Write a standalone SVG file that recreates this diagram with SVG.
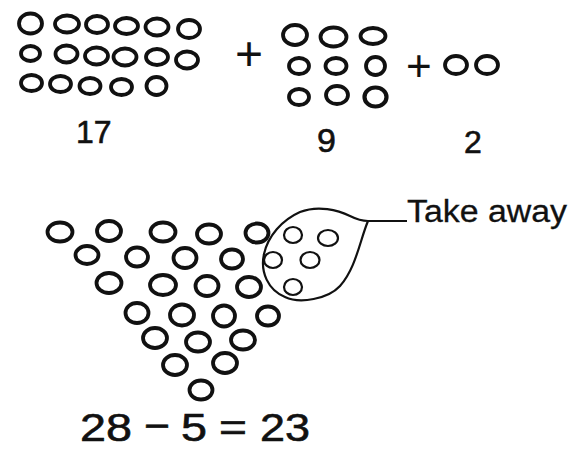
<svg xmlns="http://www.w3.org/2000/svg" width="573" height="450" viewBox="0 0 573 450">
<style>
.c{fill:none;stroke:#111;stroke-width:3.8}
.s{fill:none;stroke:#111;stroke-width:4.2}
.l{fill:none;stroke:#111;stroke-width:2.2}
.t{font-family:"Liberation Sans",Arial,sans-serif;fill:#111;stroke:#111;stroke-width:0.6}
</style>
<rect width="573" height="450" fill="#fff"/>
<g id="group17">
<ellipse class="c" cx="30.5" cy="23.5" rx="11.5" ry="10"/>
<ellipse class="c" cx="67" cy="24" rx="12" ry="8.5"/>
<ellipse class="c" cx="97" cy="24.5" rx="11" ry="8.5"/>
<ellipse class="c" cx="126.5" cy="26" rx="11.5" ry="8"/>
<ellipse class="c" cx="157" cy="27" rx="11.5" ry="8.5"/>
<ellipse class="c" cx="189" cy="29" rx="11" ry="9"/>
<ellipse class="c" cx="30.5" cy="53.5" rx="9.5" ry="7.5"/>
<ellipse class="c" cx="66.5" cy="54" rx="11" ry="8.5"/>
<ellipse class="c" cx="96.5" cy="56" rx="11.5" ry="8.5"/>
<ellipse class="c" cx="125" cy="57" rx="11.5" ry="8.5"/>
<ellipse class="c" cx="157" cy="57" rx="11" ry="8"/>
<ellipse class="c" cx="187" cy="60" rx="11" ry="8.5"/>
<ellipse class="c" cx="31.5" cy="83" rx="10.5" ry="8"/>
<ellipse class="c" cx="60.5" cy="84" rx="10.5" ry="8"/>
<ellipse class="c" cx="90" cy="86" rx="10.5" ry="8"/>
<ellipse class="c" cx="121.5" cy="87" rx="10.5" ry="8"/>
<ellipse class="c" cx="156.5" cy="86" rx="10" ry="9"/>
<text class="t" x="76" y="143" font-size="32">17</text>
</g>
<g id="plus1"><text class="t" x="235" y="70" font-size="48" style="stroke-width:0">+</text></g>
<g id="group9">
<ellipse class="c" cx="295" cy="35" rx="12" ry="10"/>
<ellipse class="c" cx="333.5" cy="37" rx="13" ry="9.5"/>
<ellipse class="c" cx="373" cy="36" rx="12.5" ry="8"/>
<ellipse class="c" cx="299" cy="66" rx="10" ry="8"/>
<ellipse class="c" cx="336" cy="66" rx="10.5" ry="8"/>
<ellipse class="c" cx="375.5" cy="66" rx="9.5" ry="9"/>
<ellipse class="c" cx="299" cy="97" rx="10" ry="8"/>
<ellipse class="c" cx="337" cy="95" rx="11" ry="9"/>
<ellipse class="s" cx="375.5" cy="97" rx="11" ry="9.5"/>
<text class="t" x="317" y="152" font-size="34">9</text>
</g>
<g id="plus2"><text class="t" x="406" y="81" font-size="44" style="stroke-width:0">+</text></g>
<g id="group2">
<ellipse class="c" cx="456" cy="65" rx="11" ry="9"/>
<ellipse class="c" cx="487" cy="65" rx="11" ry="9"/>
<text class="t" x="464" y="153" font-size="32">2</text>
</g>
<g id="triangle">
<ellipse class="c" cx="60" cy="232" rx="12.5" ry="9.5"/>
<ellipse class="c" cx="109" cy="231" rx="12" ry="10"/>
<ellipse class="c" cx="163" cy="232" rx="12.5" ry="9.5"/>
<ellipse class="c" cx="209" cy="234" rx="12" ry="9.5"/>
<ellipse class="c" cx="257" cy="233" rx="11.5" ry="9.5"/>
<ellipse class="c" cx="87" cy="255" rx="11.5" ry="9"/>
<ellipse class="c" cx="137" cy="257" rx="11" ry="9.5"/>
<ellipse class="c" cx="185" cy="258" rx="11.5" ry="10"/>
<ellipse class="c" cx="232" cy="259" rx="11" ry="9.5"/>
<ellipse class="c" cx="109" cy="283" rx="12.5" ry="10"/>
<ellipse class="c" cx="163" cy="285" rx="13" ry="10"/>
<ellipse class="c" cx="207" cy="286" rx="11.5" ry="10"/>
<ellipse class="c" cx="249" cy="287" rx="12" ry="10"/>
<ellipse class="c" cx="137" cy="313" rx="11.5" ry="10"/>
<ellipse class="c" cx="182" cy="315" rx="12" ry="10.5"/>
<ellipse class="c" cx="224" cy="316" rx="11" ry="10.5"/>
<ellipse class="c" cx="268" cy="316" rx="11" ry="9.5"/>
<ellipse class="c" cx="155" cy="338" rx="12" ry="10"/>
<ellipse class="c" cx="198" cy="342" rx="12" ry="9.5"/>
<ellipse class="c" cx="243" cy="340" rx="12" ry="9.5"/>
<ellipse class="c" cx="175" cy="365" rx="12" ry="10"/>
<ellipse class="c" cx="225" cy="363" rx="12" ry="10"/>
<ellipse class="c" cx="201" cy="390" rx="11.5" ry="9.5"/>
</g>
<g id="takeaway">
<path class="l" d="M368,221 C360,240 356,268 340,286 C328,299 300,304 285,297 C268,290 260,272 264,254 C268,236 282,220 300,212 C318,205 338,210 350,216 C356,219 362,221 368,221 L407,221"/>
<ellipse class="l" cx="293" cy="235" rx="9" ry="8"/>
<ellipse class="l" cx="328" cy="238" rx="10" ry="8"/>
<ellipse class="l" cx="273" cy="260" rx="9" ry="8"/>
<ellipse class="l" cx="310" cy="260" rx="9.5" ry="8"/>
<ellipse class="l" cx="293" cy="287" rx="9" ry="8"/>
<text class="t" x="407" y="222" font-size="31" textLength="160" lengthAdjust="spacingAndGlyphs" style="stroke-width:0.3">Take away</text>
</g>
<g id="equation">
<text class="t" font-size="38" y="441" x="80" textLength="52" lengthAdjust="spacingAndGlyphs">28</text>
<text class="t" font-size="42" y="440" x="144" textLength="26" lengthAdjust="spacingAndGlyphs">−</text>
<text class="t" font-size="38" y="441" x="181" textLength="26" lengthAdjust="spacingAndGlyphs">5</text>
<text class="t" font-size="38" y="441" x="219" textLength="28" lengthAdjust="spacingAndGlyphs">=</text>
<text class="t" font-size="38" y="441" x="260" textLength="50" lengthAdjust="spacingAndGlyphs">23</text>
</g>
</svg>
